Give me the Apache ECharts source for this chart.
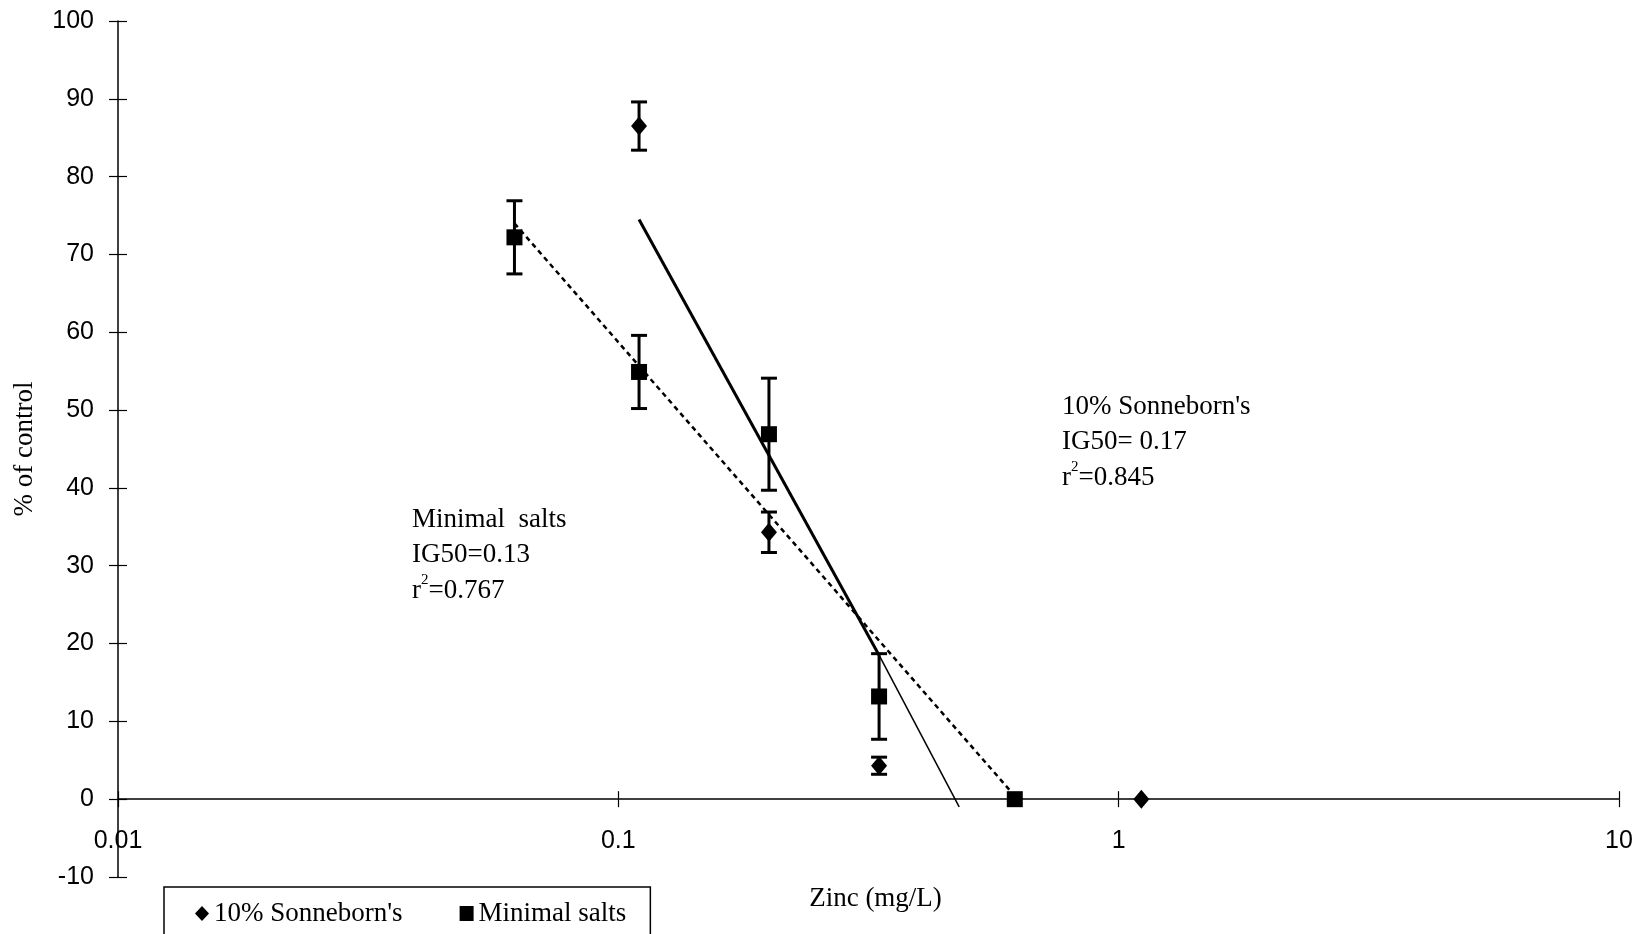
<!DOCTYPE html>
<html>
<head>
<meta charset="utf-8" />
<title>Zinc - % of control</title>
<script src="https://cdn.jsdelivr.net/npm/echarts@6/dist/echarts.min.js"></script>
<style>
	html, body { margin: 0; padding: 0; background: #fff; }
	#chart { width: 1649px; height: 934px; }
</style>
</head>
<body>
<div id="chart"></div>
<script>
// x values (mg/L zinc)
var sonX = [0.11, 0.2, 0.332, 1.11];
var sonY = [86.5, 34.3, 4.3, 0];
var sonErr = [3.1, 2.6, 1.1, 0];

var minX = [0.062, 0.11, 0.2, 0.332, 0.62];
var minY = [72.2, 54.9, 46.9, 13.2, 0];
var minErr = [4.7, 4.7, 7.2, 5.5, 0];

// trend lines
var sonTrendThickX = [0.11, 0.332];
var sonTrendThickY = [74.5, 18.5];
var sonTrendThinX = [0.332, 0.48];
var sonTrendThinY = [18.5, -1.0];
var minTrendX = [0.062, 0.605];
var minTrendY = [74, 1.2];

var xTicks = [0.01, 0.1, 1, 10];
var yMin = -10, yMax = 100, yStep = 10;

var serifFont = '"Liberation Serif", "Times New Roman", serif';
var sansFont = '"Liberation Sans", Arial, sans-serif';

function pairs(xs, ys) {
	var out = [];
	for (var i = 0; i < xs.length; i++) out.push([xs[i], ys[i]]);
	return out;
}
function errData(xs, ys, es) {
	var out = [];
	for (var i = 0; i < xs.length; i++) {
		if (es[i] > 0) out.push([xs[i], ys[i] - es[i], ys[i] + es[i]]);
	}
	return out;
}
function renderErr(params, api) {
	var x = api.value(0);
	var lo = api.coord([x, api.value(1)]);
	var hi = api.coord([x, api.value(2)]);
	var w = 8;
	var st = { stroke: '#000', lineWidth: 3 };
	return {
		type: 'group',
		children: [
			{ type: 'line', shape: { x1: lo[0], y1: lo[1], x2: hi[0], y2: hi[1] }, style: st },
			{ type: 'line', shape: { x1: lo[0] - w, y1: lo[1], x2: lo[0] + w, y2: lo[1] }, style: st },
			{ type: 'line', shape: { x1: hi[0] - w, y1: hi[1], x2: hi[0] + w, y2: hi[1] }, style: st }
		]
	};
}

var chart = echarts.init(document.getElementById('chart'));

// grid 0 holds the data and the y axis (-10..100)
// grid 1 sits on top of it, its bottom edge on y = 0, and carries the x axis
var plotBottom = 57;
var zeroBottom = plotBottom + (0 - yMin) / (yMax - yMin) * (934 - 21 - plotBottom);

var option = {
	animation: false,
	backgroundColor: '#fff',
	grid: [
		{ left: 118, right: 30, top: 21, bottom: plotBottom, outerBoundsMode: 'none', containLabel: false },
		{ left: 118, right: 30, top: 21, bottom: zeroBottom, outerBoundsMode: 'none', containLabel: false }
	],
	legend: {
		data: [
			{ name: "10% Sonneborn's", icon: 'diamond' },
			{ name: 'Minimal salts', icon: 'rect' }
		],
		left: 164,
		top: 887,
		padding: [13, 24, 13, 31],
		borderColor: '#000',
		borderWidth: 1.5,
		itemGap: 57,
		itemWidth: 14,
		itemHeight: 15,
		itemStyle: { opacity: 1 },
		textStyle: { fontFamily: serifFont, fontSize: 27, color: '#000' }
	},
	xAxis: [{
		gridIndex: 0,
		type: 'log',
		logBase: 10,
		min: xTicks[0],
		max: xTicks[xTicks.length - 1],
		axisLine: { show: false },
		axisTick: { show: false },
		axisLabel: { show: false },
		splitLine: { show: false }
	}, {
		gridIndex: 1,
		type: 'log',
		logBase: 10,
		min: xTicks[0],
		max: xTicks[xTicks.length - 1],
		position: 'bottom',
		name: 'Zinc (mg/L)',
		nameLocation: 'middle',
		nameGap: 86,
		nameTextStyle: { fontFamily: serifFont, fontSize: 27, color: '#000', padding: [0, 0, 0, 14] },
		axisLine: { onZero: false, lineStyle: { color: '#000', width: 1.5 } },
		axisTick: { length: 8, lineStyle: { color: '#000', width: 1.2 } },
		axisLabel: { margin: 29, fontFamily: sansFont, fontSize: 25, color: '#000' },
		splitLine: { show: false }
	}, {
		gridIndex: 1,
		type: 'log',
		logBase: 10,
		min: xTicks[0],
		max: xTicks[xTicks.length - 1],
		position: 'bottom',
		axisLine: { show: false, onZero: false },
		axisTick: { inside: true, length: 8, lineStyle: { color: '#000', width: 1.2 } },
		axisLabel: { show: false },
		splitLine: { show: false }
	}],
	yAxis: [{
		gridIndex: 0,
		type: 'value',
		min: yMin,
		max: yMax,
		interval: yStep,
		name: '% of control',
		nameLocation: 'middle',
		nameGap: 80,
		nameTextStyle: { fontFamily: serifFont, fontSize: 27, color: '#000' },
		axisLine: { show: true, onZero: false, lineStyle: { color: '#000', width: 1.5 } },
		axisTick: { show: true, length: 9, lineStyle: { color: '#000', width: 1.2 } },
		axisLabel: { margin: 24, fontFamily: sansFont, fontSize: 25, color: '#000' },
		splitLine: { show: false }
	}, {
		gridIndex: 0,
		type: 'value',
		min: yMin,
		max: yMax,
		interval: yStep,
		position: 'left',
		axisLine: { show: false, onZero: false },
		axisTick: { show: true, inside: true, length: 9, lineStyle: { color: '#000', width: 1.2 } },
		axisLabel: { show: false },
		splitLine: { show: false }
	}, {
		gridIndex: 1,
		type: 'value',
		min: 0,
		max: yMax,
		show: false
	}],
	graphic: [{
		type: 'text',
		left: 1062,
		top: 389,
		style: {
			text: "10% Sonneborn's\nIG50= 0.17\nr{sup|2}=0.845",
			font: '27px ' + serifFont,
			fill: '#000',
			lineHeight: 35.5,
			rich: { sup: { fontSize: 15, fontFamily: serifFont, verticalAlign: 'top', lineHeight: 35.5 } }
		}
	}, {
		type: 'text',
		left: 412,
		top: 502,
		style: {
			text: 'Minimal  salts\nIG50=0.13\nr{sup|2}=0.767',
			font: '27px ' + serifFont,
			fill: '#000',
			lineHeight: 35.5,
			rich: { sup: { fontSize: 15, fontFamily: serifFont, verticalAlign: 'top', lineHeight: 35.5 } }
		}
	}],
	series: [{
		name: 'son-trend',
		type: 'line',
		data: pairs(sonTrendThickX, sonTrendThickY),
		showSymbol: false,
		silent: true,
		lineStyle: { color: '#000', width: 3 },
		z: 1
	}, {
		name: 'son-trend-ext',
		type: 'line',
		data: pairs(sonTrendThinX, sonTrendThinY),
		showSymbol: false,
		silent: true,
		lineStyle: { color: '#000', width: 1.5 },
		z: 1
	}, {
		name: 'min-trend',
		type: 'line',
		data: pairs(minTrendX, minTrendY),
		showSymbol: false,
		silent: true,
		lineStyle: { color: '#000', width: 2.5, type: [5, 4] },
		z: 1
	}, {
		name: 'son-err',
		type: 'custom',
		renderItem: renderErr,
		data: errData(sonX, sonY, sonErr),
		z: 2
	}, {
		name: 'min-err',
		type: 'custom',
		renderItem: renderErr,
		data: errData(minX, minY, minErr),
		z: 2
	}, {
		name: "10% Sonneborn's",
		type: 'scatter',
		symbol: 'diamond',
		symbolSize: [16, 19],
		itemStyle: { color: '#000', opacity: 1 },
		data: pairs(sonX, sonY),
		z: 3
	}, {
		name: 'Minimal salts',
		type: 'scatter',
		symbol: 'rect',
		symbolSize: 16,
		itemStyle: { color: '#000', opacity: 1 },
		data: pairs(minX, minY),
		z: 3
	}]
};

chart.setOption(option);
</script>
</body>
</html>
